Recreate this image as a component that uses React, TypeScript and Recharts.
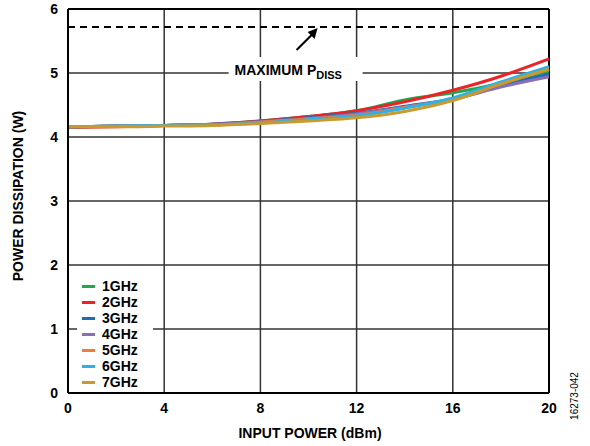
import React from 'react';
import { LineChart, Line, XAxis, YAxis, CartesianGrid, ReferenceLine, ReferenceDot } from 'recharts';

const inputPower = [0, 2, 4, 6, 8, 10, 12, 14, 16, 18, 20];

const ghz1 = [4.16, 4.17, 4.18, 4.2, 4.25, 4.32, 4.41, 4.58, 4.69, 4.84, 5.03];
const ghz2 = [4.15, 4.16, 4.18, 4.2, 4.25, 4.32, 4.41, 4.55, 4.73, 4.95, 5.22];
const ghz3 = [4.16, 4.17, 4.18, 4.2, 4.24, 4.3, 4.37, 4.48, 4.6, 4.81, 4.98];
const ghz4 = [4.16, 4.17, 4.18, 4.2, 4.24, 4.29, 4.36, 4.47, 4.59, 4.78, 4.94];
const ghz5 = [4.16, 4.17, 4.18, 4.19, 4.23, 4.28, 4.34, 4.46, 4.6, 4.83, 5.06];
const ghz6 = [4.16, 4.17, 4.18, 4.19, 4.22, 4.27, 4.33, 4.45, 4.61, 4.86, 5.1];
const ghz7 = [4.16, 4.16, 4.17, 4.18, 4.21, 4.25, 4.3, 4.4, 4.57, 4.83, 5.06];

const seriesNames = ['1GHz', '2GHz', '3GHz', '4GHz', '5GHz', '6GHz', '7GHz'];
const seriesValues = [ghz1, ghz2, ghz3, ghz4, ghz5, ghz6, ghz7];
const seriesColors = ['#1ea84b', '#ec2227', '#1f6db5', '#8a6fb5', '#f07c37', '#2cb2e8', '#c99a2e'];

const xTicks = [0, 4, 8, 12, 16, 20];
const yTicks = [0, 1, 2, 3, 4, 5, 6];
const maxPdiss = 5.72;

const FONT = 'Arial, "Liberation Sans", sans-serif';

const data = inputPower.map((p, i) => {
  const row: any = { x: p };
  seriesNames.forEach((name, s) => {
    row[name] = seriesValues[s][i];
  });
  return row;
});

// label box for the max dissipation line, placed relative to (12, 5)
const MaxLabel = ({ cx, cy }: any) => {
  if (cx == null || cy == null) return null;
  return (
    <g>
      <rect x={cx - 128} y={cy - 16} width={134} height={24} fill="#fff" />
      <text x={cx - 122} y={cy + 2} fontFamily={FONT} fontWeight="bold" fontSize={14} fill="#000">
        MAXIMUM P
        <tspan fontSize={11} dy={4}>DISS</tspan>
      </text>
    </g>
  );
};

const Arrow = ({ cx, cy }: any) => {
  if (cx == null || cy == null) return null;
  const x1 = cx - 60;
  const y1 = cy - 23;
  const x2 = cx - 39;
  const y2 = cy - 45;
  return (
    <g>
      <line x1={x1} y1={y1} x2={x2 - 5} y2={y2 + 6} stroke="#000" strokeWidth={2} />
      <polygon points={`${x2},${y2} ${x2 - 10},${y2 + 4} ${x2 - 3},${y2 + 11}`} fill="#000" />
    </g>
  );
};

export default function App() {
  return (
    <div style={{ position: 'absolute', left: 0, top: 0, width: 590, height: 446, background: '#fff' }}>
      <LineChart width={590} height={446} data={data} margin={{ top: 9, right: 41, bottom: 0, left: 8 }}>
        <CartesianGrid stroke="#333" strokeWidth={1.5} horizontalValues={yTicks} verticalValues={xTicks} />
        <XAxis
          dataKey="x"
          type="number"
          domain={[0, 20]}
          ticks={xTicks}
          height={53}
          axisLine={{ stroke: '#000', strokeWidth: 2 }}
          tickLine={false}
          tickMargin={4}
          tick={{ fill: '#000', fontSize: 14, fontWeight: 'bold', fontFamily: FONT }}
        />
        <YAxis
          type="number"
          domain={[0, 6]}
          ticks={yTicks}
          width={60}
          axisLine={{ stroke: '#000', strokeWidth: 2 }}
          tickLine={false}
          tickMargin={4}
          tick={{ fill: '#000', fontSize: 14, fontWeight: 'bold', fontFamily: FONT }}
        />
        <ReferenceLine y={6} stroke="#000" strokeWidth={2} />
        <ReferenceLine x={20} stroke="#000" strokeWidth={2} />
        <ReferenceLine y={maxPdiss} stroke="#000" strokeWidth={2} strokeDasharray="7 5" />
        <ReferenceDot x={12} y={5} r={0} shape={<MaxLabel />} />
        <ReferenceDot x={12} y={5} r={0} shape={<Arrow />} />
        {seriesNames.map((name, s) => (
          <Line
            key={name}
            dataKey={name}
            type="monotone"
            stroke={seriesColors[s]}
            strokeWidth={3}
            dot={false}
            isAnimationActive={false}
          />
        ))}
      </LineChart>
      <div
        style={{
          position: 'absolute',
          left: 77,
          top: 276,
          width: 76,
          height: 112,
          background: '#fff',
          fontFamily: FONT,
          fontWeight: 'bold',
          fontSize: 14,
        }}
      >
        {seriesNames.map((name, s) => (
          <div key={name} style={{ position: 'absolute', left: 0, top: 2 + s * 16, height: 16, display: 'flex', alignItems: 'center' }}>
            <span style={{ display: 'inline-block', width: 13, height: 3, background: seriesColors[s], marginLeft: 5, marginRight: 7 }} />
            <span>{name}</span>
          </div>
        ))}
      </div>
      <div
        style={{
          position: 'absolute',
          left: 18,
          top: 196,
          transform: 'translate(-50%, -50%) rotate(-90deg)',
          whiteSpace: 'nowrap',
          fontFamily: FONT,
          fontWeight: 'bold',
          fontSize: 14,
        }}
      >
        POWER DISSIPATION (W)
      </div>
      <div
        style={{
          position: 'absolute',
          left: 310,
          top: 433,
          transform: 'translate(-50%, -50%)',
          whiteSpace: 'nowrap',
          fontFamily: FONT,
          fontWeight: 'bold',
          fontSize: 14,
        }}
      >
        INPUT POWER (dBm)
      </div>
      <div
        style={{
          position: 'absolute',
          left: 574,
          top: 396,
          transform: 'translate(-50%, -50%) rotate(-90deg)',
          whiteSpace: 'nowrap',
          fontFamily: FONT,
          fontSize: 10,
        }}
      >
        16273-042
      </div>
    </div>
  );
}
